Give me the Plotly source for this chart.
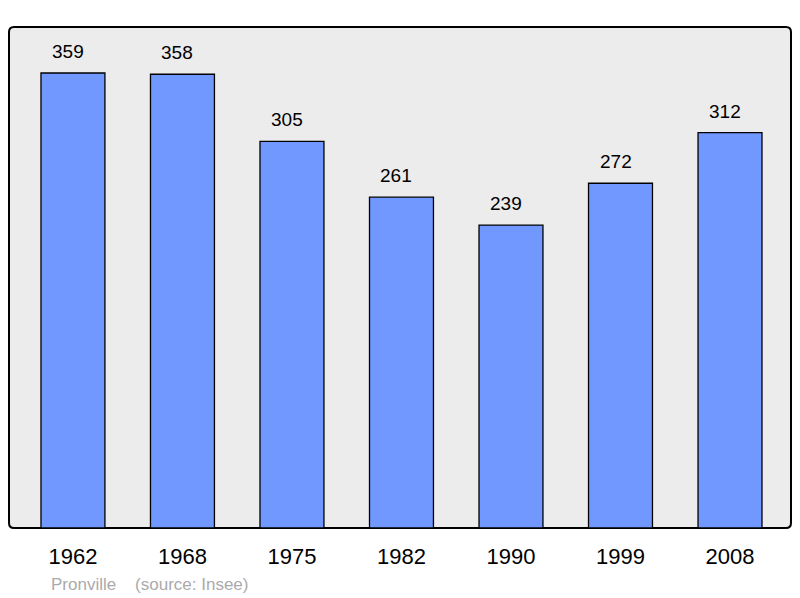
import plotly.graph_objects as go

years = ["1962", "1968", "1975", "1982", "1990", "1999", "2008"]
population = [359, 358, 305, 261, 239, 272, 312]
commune = "Pronville"
source = "(source: Insee)"

W, H = 800, 598
L, R, T, B = 9, 9, 27, 70
pw, ph = W - L - R, H - T - B
FONT = "Liberation Sans, Arial, sans-serif"

fig = go.Figure()
fig.add_trace(go.Bar(
    x=list(range(len(years))), y=population,
    width=0.584,
    marker=dict(color="#7098FF", line=dict(color="#000000", width=1.3)),
    hoverinfo="skip",
))

for i, v in enumerate(population):
    fig.add_annotation(x=i, y=v, text=str(v), showarrow=False,
                       yanchor="bottom", yshift=9, xshift=-5,
                       font=dict(family=FONT, size=19, color="#000000"))

rx, ry = 5 / pw, 5 / ph
path = (f"M {rx},0 L {1-rx},0 Q 1,0 1,{ry} L 1,{1-ry} Q 1,1 {1-rx},1 "
        f"L {rx},1 Q 0,1 0,{1-ry} L 0,{ry} Q 0,0 {rx},0 Z")
fig.add_shape(type="path", path=path, xref="paper", yref="paper",
              fillcolor="#ECECEC", line=dict(color="#000000", width=2), layer="below")

fig.add_annotation(x=(49 - L) / pw, y=(H - 584 - B) / ph, xref="paper", yref="paper",
                   text=f"{commune}\u00a0\u00a0\u00a0\u00a0{source}", showarrow=False,
                   xanchor="left", yanchor="middle",
                   font=dict(family=FONT, size=17, color="#AAAAAA"))

fig.update_layout(
    width=W, height=H,
    margin=dict(l=L, r=R, t=T, b=B),
    paper_bgcolor="#FFFFFF", plot_bgcolor="rgba(0,0,0,0)",
    showlegend=False,
    xaxis=dict(range=[-0.584, 6.557], tickmode="array", tickvals=list(range(len(years))),
               ticktext=years, showgrid=False, zeroline=False, showline=False, ticks="",
               tickfont=dict(family=FONT, size=22, color="#000000"),
               ticklabelstandoff=13, fixedrange=True),
    yaxis=dict(range=[0, 395.3], showgrid=False, zeroline=False, showline=False,
               showticklabels=False, ticks="", fixedrange=True),
)

fig.write_html("out.html", config={"displayModeBar": False},
               post_script="document.body.style.margin='0';document.body.style.overflow='hidden';")
